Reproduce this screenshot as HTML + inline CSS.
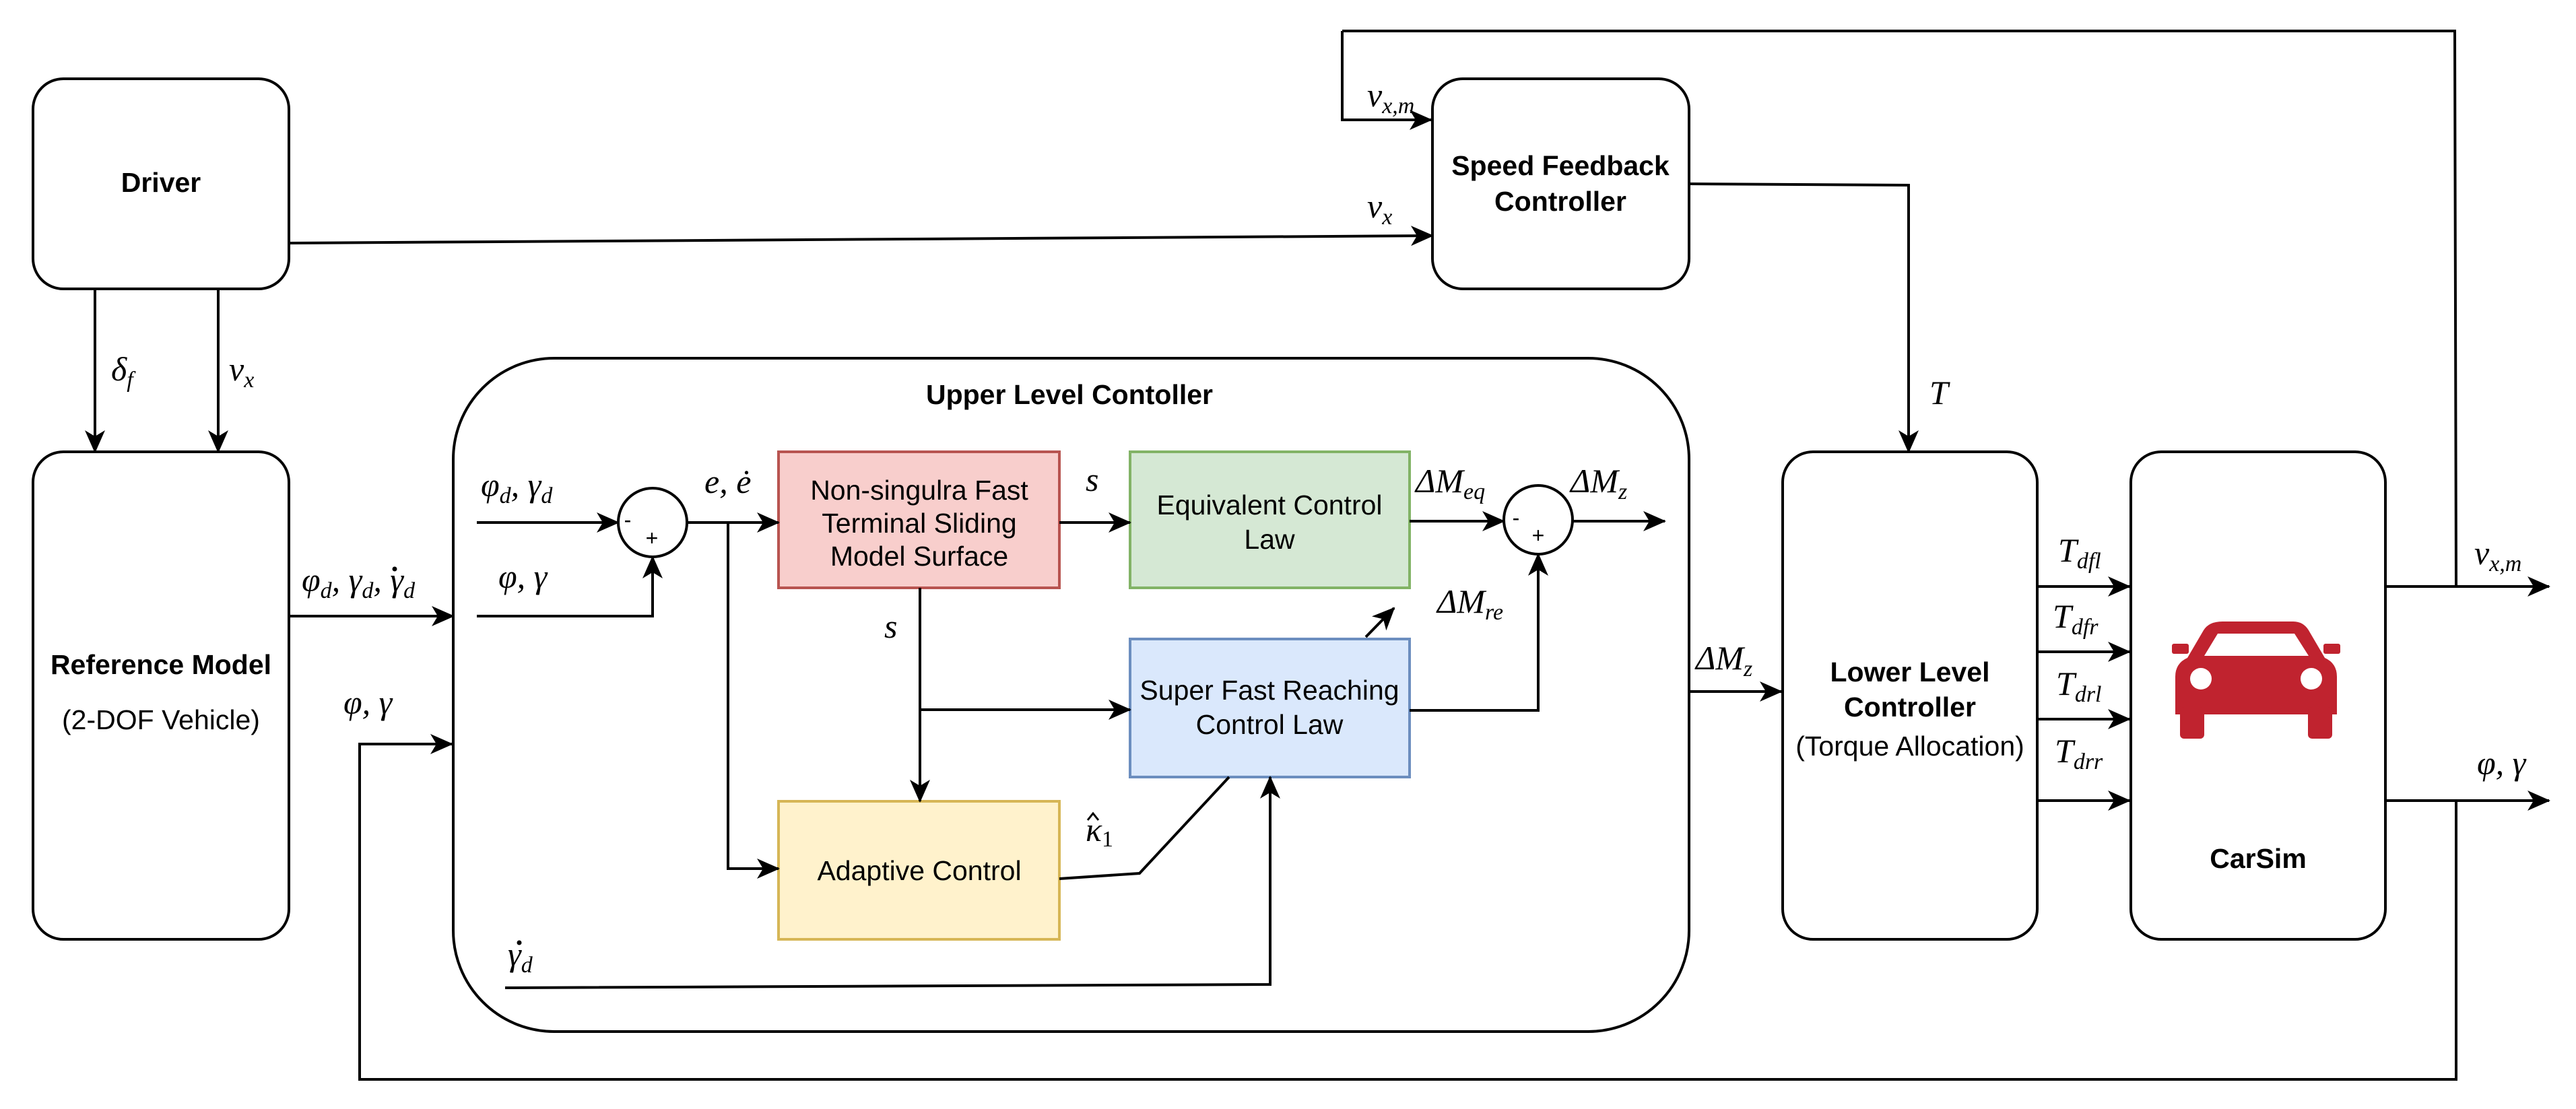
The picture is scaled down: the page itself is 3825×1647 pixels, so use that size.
<!DOCTYPE html>
<html><head><meta charset="utf-8"><style>
html,body{margin:0;padding:0;background:#fff;}
svg{display:block;}
.s{font-family:"Liberation Sans",sans-serif;font-size:41px;fill:#000;text-anchor:middle;}
.b{font-weight:bold;}
.m{font-family:"Liberation Serif","DejaVu Serif",serif;font-style:italic;font-size:50px;fill:#000;}
.sub{font-size:34px;}
</style></head><body>
<svg width="3825" height="1647" viewBox="0 0 3825 1647" xmlns="http://www.w3.org/2000/svg">
<defs>
<marker id="ar" markerWidth="34" markerHeight="30" refX="32" refY="15" orient="auto" markerUnits="userSpaceOnUse">
<path d="M0,0 L34,15 L0,30 L9,15 Z" fill="#000"/>
</marker>
</defs>
<g fill="none" stroke="#000" stroke-width="4">
<rect x="49" y="117" width="380" height="312" rx="45"/>
<rect x="49" y="671" width="380" height="724" rx="45"/>
<rect x="2127" y="117" width="381" height="312" rx="45"/>
<rect x="673" y="532" width="1835" height="1000" rx="150"/>
<rect x="2647" y="671" width="378" height="724" rx="45"/>
<rect x="3164" y="671" width="378" height="724" rx="45"/>
<rect x="1156" y="671" width="417" height="202" fill="#f8cecc" stroke="#b85450"/>
<rect x="1678" y="671" width="415" height="202" fill="#d5e8d4" stroke="#82b366"/>
<rect x="1678" y="949" width="415" height="205" fill="#dae8fc" stroke="#6c8ebf"/>
<rect x="1156" y="1190" width="417" height="205" fill="#fff2cc" stroke="#d6b656"/>
<circle cx="969" cy="776" r="51"/>
<circle cx="2284" cy="772" r="51"/>
</g>
<g fill="none" stroke="#000" stroke-width="4" marker-end="url(#ar)">
<path d="M431,361 L2127,350"/>
<path d="M1993,46 L1993,178 L2125,178"/>
<path d="M2508,273 L2834,275 L2834,671"/>
<path d="M141,429 L141,671"/>
<path d="M324,429 L324,671"/>
<path d="M429,915 L673,915"/>
<path d="M3542,1189 L3785,1189"/>
<path d="M3542,871 L3785,871"/>
<path d="M708,776 L918,776"/>
<path d="M708,915 L969,915 L969,827"/>
<path d="M1020,776 L1156,776"/>
<path d="M1081,776 L1081,1290 L1156,1290"/>
<path d="M1573,776 L1678,776"/>
<path d="M1366,873 L1366,1190"/>
<path d="M1366,1054 L1678,1054"/>
<path d="M2093,774 L2233,774"/>
<path d="M2093,1055 L2284,1055 L2284,823"/>
<path d="M2028,946 L2070,903"/>
<path d="M2335,774 L2472,774"/>
<path d="M1573,1305 L1692,1297 L1825,1154" marker-end="none"/>
<path d="M750,1467 L1886,1462 L1886,1154"/>
<path d="M2508,1027 L2645,1027"/>
<path d="M3025,871 L3162,871"/>
<path d="M3025,968 L3162,968"/>
<path d="M3025,1068 L3162,1068"/>
<path d="M3025,1189 L3162,1189"/>
<path d="M3647,1189 L3647,1603 L534,1603 L534,1105 L671,1105"/>
</g>
<path d="M1993,46 L3645,46 L3647,871" fill="none" stroke="#000" stroke-width="4"/>
<text class="s b" x="239" y="285">Driver</text>
<text class="s b" x="239" y="1001">Reference Model</text>
<text class="s" x="239" y="1083">(2-DOF Vehicle)</text>
<text class="s b" x="2317" y="260">Speed Feedback</text>
<text class="s b" x="2317" y="313">Controller</text>
<text class="s b" x="1588" y="600">Upper Level Contoller</text>
<text class="s b" x="2836" y="1012">Lower Level</text>
<text class="s b" x="2836" y="1064">Controller</text>
<text class="s" x="2836" y="1122">(Torque Allocation)</text>
<text class="s b" x="3353" y="1289">CarSim</text>
<text class="s" x="1365" y="742">Non-singulra Fast</text>
<text class="s" x="1365" y="791">Terminal Sliding</text>
<text class="s" x="1365" y="840">Model Surface</text>
<text class="s" x="1885" y="764">Equivalent Control</text>
<text class="s" x="1885" y="815">Law</text>
<text class="s" x="1885" y="1039">Super Fast Reaching</text>
<text class="s" x="1885" y="1090">Control Law</text>
<text class="s" x="1365" y="1307">Adaptive Control</text>
<text class="s" x="932" y="783" style="font-size:32px">-</text>
<text class="s" x="968" y="810" style="font-size:32px">+</text>
<text class="s" x="2251" y="780" style="font-size:32px">-</text>
<text class="s" x="2284" y="806" style="font-size:32px">+</text>
<text class="m" x="2030" y="158">v<tspan class="sub" dy="10">x,m</tspan></text>
<text class="m" x="2030" y="323">v<tspan class="sub" dy="10">x</tspan></text>
<text class="m" x="2865" y="600">T</text>
<text class="m" x="165" y="565">δ<tspan class="sub" dy="10">f</tspan></text>
<text class="m" x="340" y="565">v<tspan class="sub" dy="10">x</tspan></text>
<text class="m" x="448" y="878">φ<tspan class="sub" dy="10">d</tspan><tspan dy="-10">, γ</tspan><tspan class="sub" dy="10">d</tspan><tspan dy="-10">, γ</tspan><tspan class="sub" dy="10">d</tspan></text>
<text class="m" x="510" y="1060">φ, γ</text>
<text class="m" x="714" y="737">φ<tspan class="sub" dy="10">d</tspan><tspan dy="-10">, γ</tspan><tspan class="sub" dy="10">d</tspan></text>
<text class="m" x="740" y="873">φ, γ</text>
<text class="m" x="1046" y="732">e, ė</text>
<text class="m" x="1612" y="729">s</text>
<text class="m" x="1313" y="947">s</text>
<text class="m" x="2102" y="731">ΔM<tspan class="sub" dy="10">eq</tspan></text>
<text class="m" x="2332" y="731">ΔM<tspan class="sub" dy="10">z</tspan></text>
<text class="m" x="2134" y="910">ΔM<tspan class="sub" dy="10">re</tspan></text>
<text class="m" x="1612" y="1249">κ<tspan class="sub" dy="8" style="font-style:normal">1</tspan></text>
<path d="M1615,1218 L1623,1208 L1631,1218" fill="none" stroke="#000" stroke-width="3"/>
<text class="m" x="754" y="1434">γ<tspan class="sub" dy="10">d</tspan></text>
<text class="m" x="2518" y="994">ΔM<tspan class="sub" dy="10">z</tspan></text>
<text class="m" x="3056" y="834">T<tspan class="sub" dy="10">dfl</tspan></text>
<text class="m" x="3048" y="932">T<tspan class="sub" dy="10">dfr</tspan></text>
<text class="m" x="3053" y="1032">T<tspan class="sub" dy="10">drl</tspan></text>
<text class="m" x="3051" y="1132">T<tspan class="sub" dy="10">drr</tspan></text>
<text class="m" x="3674" y="838">v<tspan class="sub" dy="10">x,m</tspan></text>
<text class="m" x="3678" y="1150">φ, γ</text>
<circle cx="586" cy="845" r="3.5" fill="#000"/>
<circle cx="771" cy="1400" r="3.5" fill="#000"/>
<g fill="#c0232f">
<path d="M3300,923 L3405,923 Q3420,923 3428,936 L3452,977 Q3470,985 3470,1005 L3470,1061 L3230,1061 L3230,1005 Q3230,985 3248,977 L3272,936 Q3280,923 3300,923 Z M3293,941 L3273,974 L3428,974 L3407,941 Z" fill-rule="evenodd"/>
<rect x="3225" y="956" width="25" height="15" rx="3"/>
<rect x="3450" y="956" width="25" height="15" rx="3"/>
<rect x="3237" y="1050" width="36" height="47" rx="6"/>
<rect x="3427" y="1050" width="36" height="47" rx="6"/>
</g>
<circle cx="3268" cy="1008" r="16" fill="#fff"/>
<circle cx="3432" cy="1008" r="16" fill="#fff"/>
</svg>
</body></html>
